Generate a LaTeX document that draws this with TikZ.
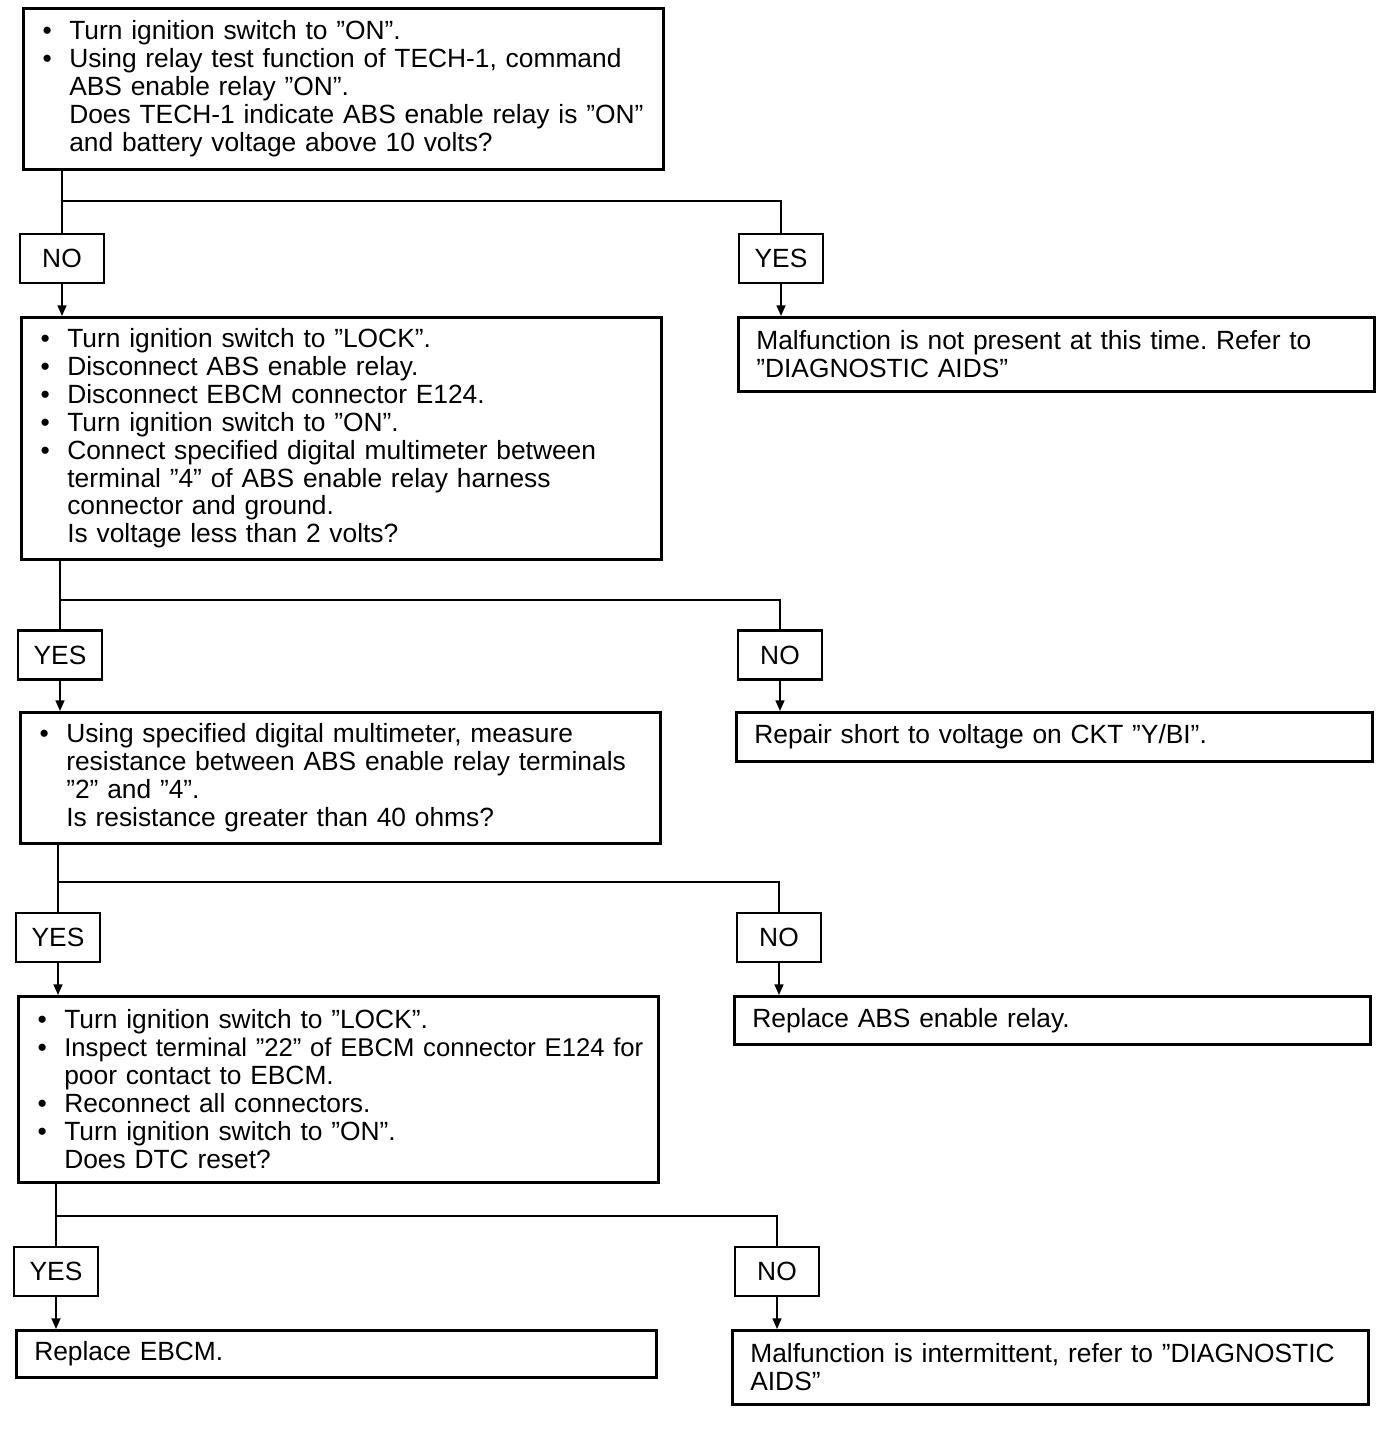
\documentclass[tikz,border=0pt]{standalone}
\usepackage{fontspec}
\usepackage{graphicx}
\setmainfont{Liberation Sans}
\usetikzlibrary{arrows.meta, positioning}

\newcommand{\itembul}{\makebox[0.88cm]{\textbullet}}
\newcommand{\itemcont}{\makebox[0.88cm]{}}

\begin{document}
\begin{tikzpicture}[
    x=0.02cm, y=-0.02cm,
    font=\fontsize{15}{15.9}\selectfont\frenchspacing,
    qbox/.style={rectangle, draw, line width=1.5pt, anchor=north west, minimum width=12.8cm,
        text width=12.72cm, inner xsep=0.04cm, inner ysep=0pt, align=left},
    abox/.style={rectangle, draw, line width=1.5pt, anchor=north west, minimum width=12.72cm,
        text width=12cm, inner xsep=0.36cm, inner ysep=0pt, align=left},
    lbl/.style={rectangle, draw, line width=1.2pt, minimum width=1.68cm, minimum height=0.98cm, inner sep=0pt},
    wire/.style={line width=1pt},
    arr/.style={wire, -{Triangle[width=5pt,length=6pt]}},
]
\useasboundingbox[fill=white] (0,0) rectangle (1392,1448);

% Step 1
\node[qbox, minimum height=3.22cm] (q1) at (22,7) {\itembul Turn ignition switch to ”ON”.\\
\itembul Using relay test function of TECH-1, command\\
\itemcont ABS enable relay ”ON”.\\
\itemcont Does TECH-1 indicate ABS enable relay is ”ON”\\
\itemcont and battery voltage above 10 volts?};

\node[lbl] (no1) at (62,258.5) {NO};
\node[lbl] (yes1) at (781,258.5) {YES};
\coordinate (j1) at (62,201);

% Step 2
\node[qbox, minimum height=4.84cm] (q2) at (20,316) {\itembul Turn ignition switch to ”LOCK”.\\
\itembul Disconnect ABS enable relay.\\
\itembul Disconnect EBCM connector E124.\\
\itembul Turn ignition switch to ”ON”.\\
\itembul Connect specified digital multimeter between\\
\itemcont terminal ”4” of ABS enable relay harness\\
\itemcont connector and ground.\\
\itemcont Is voltage less than 2 volts?};
\node[abox, minimum height=1.48cm] (r1) at (737,316) {Malfunction is not present at this time. Refer to\\
”DIAGNOSTIC AIDS”};

\node[lbl] (yes2) at (60,655) {YES};
\node[lbl] (no2) at (780,655) {NO};
\coordinate (j2) at (60,600);

% Step 3
\node[qbox, minimum height=2.62cm] (q3) at (19,711) {\itembul Using specified digital multimeter, measure\\
\itemcont resistance between ABS enable relay terminals\\
\itemcont ”2” and ”4”.\\
\itemcont Is resistance greater than 40 ohms?};
\node[abox, minimum height=0.98cm] (r2) at (735,711) {Repair short to voltage on CKT ”Y/BI”.};

\node[lbl] (yes3) at (58,937.5) {YES};
\node[lbl] (no3) at (779,937.5) {NO};
\coordinate (j3) at (58,882);

% Step 4
\node[qbox, minimum height=3.72cm] (q4) at (17,995) {\itembul Turn ignition switch to ”LOCK”.\\
\itembul \mbox{\fontsize{14.6}{15.9}\selectfont Inspect terminal ”22” of EBCM connector E124 for}\\
\itemcont poor contact to EBCM.\\
\itembul Reconnect all connectors.\\
\itembul Turn ignition switch to ”ON”.\\
\itemcont Does DTC reset?};
\node[abox, minimum height=0.96cm] (r3) at (733,995) {Replace ABS enable relay.};

\node[lbl] (yes4) at (56,1271.5) {YES};
\node[lbl] (no4) at (777,1271.5) {NO};
\coordinate (j4) at (56,1216);

% Results
\node[abox, minimum width=12.8cm, text width=12.08cm, minimum height=0.94cm] (r4) at (15,1329) {Replace EBCM.};
\node[abox, minimum height=1.48cm] (r5) at (731,1329) {Malfunction is intermittent, refer to ”DIAGNOSTIC\\
AIDS”};

% Connectors
\draw[wire] (q1.south -| no1) -- (no1.north);
\draw[wire] (j1) -| (yes1.north);
\draw[arr] (no1.south) -- (q2.north -| no1.south);
\draw[arr] (yes1.south) -- (r1.north -| yes1.south);

\draw[wire] (q2.south -| yes2) -- (yes2.north);
\draw[wire] (j2) -| (no2.north);
\draw[arr] (yes2.south) -- (q3.north -| yes2.south);
\draw[arr] (no2.south) -- (r2.north -| no2.south);

\draw[wire] (q3.south -| yes3) -- (yes3.north);
\draw[wire] (j3) -| (no3.north);
\draw[arr] (yes3.south) -- (q4.north -| yes3.south);
\draw[arr] (no3.south) -- (r3.north -| no3.south);

\draw[wire] (q4.south -| yes4) -- (yes4.north);
\draw[wire] (j4) -| (no4.north);
\draw[arr] (yes4.south) -- (r4.north -| yes4.south);
\draw[arr] (no4.south) -- (r5.north -| no4.south);

\end{tikzpicture}
\end{document}
